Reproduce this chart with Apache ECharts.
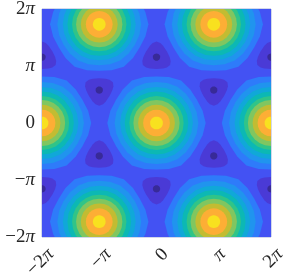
<!DOCTYPE html>
<html><head><meta charset="utf-8">
<style>html,body{margin:0;padding:0;background:#fff}#c{width:283px;height:278px;filter:blur(0.4px)}</style>
<script src="https://cdn.jsdelivr.net/npm/echarts@6/dist/echarts.min.js"></script>
</head><body><div id="c"></div>
<script>
var PI = Math.PI;
var tickUnits = [-2, -1, 0, 1, 2];
var tickNumbers = ['\u22122', '\u2212', '0', '', '2'];
var tickSymbols = ['\u03c0', '\u03c0', '', '\u03c0', '\u03c0'];
// radius of each contour around a maximum, outermost first, at 0, 15 and 30 degrees from the saddle direction
var peakRadii = [
  [2.70, 2.62, 2.56], [2.30, 2.28, 2.26], [2.00, 1.99, 1.985], [1.745, 1.745, 1.74], [1.49, 1.49, 1.49],
  [1.27, 1.27, 1.27], [1.01, 1.01, 1.01], [0.735, 0.735, 0.735], [0.35, 0.35, 0.35]
];
var peakX = [-6.283, 6.283, 0, -3.142, 3.142, -3.142, 3.142];
var peakY = [0, 0, 0, 5.44, 5.44, -5.44, -5.44];
// minima: position and direction the triangular band points to (+1 up, -1 down)
var troughX = [-6.283, 0, 6.283, -3.142, 3.142, -3.142, 3.142, -6.283, 0, 6.283];
var troughY = [3.628, 3.628, 3.628, 1.814, 1.814, -1.814, -1.814, -3.628, -3.628, -3.628];
var troughDir = [1, 1, 1, -1, -1, 1, 1, -1, -1, -1];
// radius at 0,15,30,45,60 degrees from the pointed corner
var troughRadii = [[0.865, 0.805, 0.723, 0.665, 0.652], [0.2, 0.2, 0.2, 0.2, 0.2]];
var baseColor = '#4352F3';
var peakColors = ['#2E7BFA', '#2094EE', '#10A8D8', '#0CB8B4', '#30C488', '#80C660', '#C2BC32', '#FDAE35', '#F8E11F'];
var troughColors = ['#4A3AD6', '#382A98'];

var rows = [];
rows.push(['base', 0, 0, 0, 0]);
peakRadii.forEach(function (r, l) {
  peakX.forEach(function (x, i) { rows.push(['peak', x, peakY[i], l, 0]); });
});
troughRadii.forEach(function (r, l) {
  troughX.forEach(function (x, i) { rows.push(['trough', x, troughY[i], l, troughDir[i]]); });
});
function ring(kind, l, dir) {
  var out = [], a, k, f, r;
  if (kind === 'peak') {
    for (a = 0; a < 24; a++) {
      k = a % 4; f = k > 2 ? 4 - k : k; r = peakRadii[l][f];
      out.push([r * Math.cos(a * PI / 12), r * Math.sin(a * PI / 12)]);
    }
  } else {
    for (a = 0; a < 24; a++) {
      k = a % 8; f = k > 4 ? 8 - k : k; r = troughRadii[l][f];
      var t = dir * PI / 2 + a * PI / 12;
      out.push([r * Math.cos(t), r * Math.sin(t)]);
    }
  }
  return out;
}
function renderItem(params, api) {
  var row = rows[params.dataIndex], pts, color;
  if (row[0] === 'base') {
    pts = [[-2 * PI, -2 * PI], [2 * PI, -2 * PI], [2 * PI, 2 * PI], [-2 * PI, 2 * PI]];
    color = baseColor;
  } else {
    pts = ring(row[0], row[3], row[4]).map(function (p) { return [row[1] + p[0], row[2] + p[1]]; });
    color = row[0] === 'peak' ? peakColors[row[3]] : troughColors[row[3]];
  }
  return { type: 'polygon', shape: { points: pts.map(function (p) { return api.coord(p); }) }, style: { fill: color } };
}
var font = '"Liberation Serif","DejaVu Serif",serif';
var chart = echarts.init(document.getElementById('c'), null, { renderer: 'canvas' });
function axis(extra) {
  return Object.assign({
    type: 'value', min: -2 * PI, max: 2 * PI, interval: PI,
    splitLine: { show: false }, axisLine: { show: false }, axisTick: { show: false }
  }, extra);
}
function parts(v) {
  var i = tickUnits.indexOf(Math.round(v / PI));
  return [tickNumbers[i], tickSymbols[i]];
}
function fmtY(v) {
  var p = parts(v);
  return (p[0] ? '{n|' + p[0] + '}' : '') + (p[1] ? '{p|' + p[1] + '}' : '');
}
function fmtX(v) {
  var p = parts(v);
  return (p[0] ? '{n|' + p[0] + '}' : '') + (p[1] ? '{p|' + p[1] + '}' : '') + '{s| }';
}
var color = '#262626';
chart.setOption({
  animation: false,
  grid: { show: true, left: 42, top: 9, width: 229, height: 228, outerBoundsMode: 'none', containLabel: false, borderColor: '#A8B0D8', borderWidth: 1, backgroundColor: 'transparent' },
  xAxis: axis({ axisLabel: { formatter: fmtX, rotate: 45, margin: 10, width: 54, align: 'center', verticalAlign: 'top', showMinLabel: true, showMaxLabel: true, hideOverlap: false,
    rich: {
      n: { fontSize: 19, color: color, fontFamily: font, align: 'right' },
      p: { fontSize: 19, color: color, fontFamily: font, fontStyle: 'italic', align: 'right' },
      s: { width: 24, fontSize: 19, align: 'right' }
    } } }),
  yAxis: axis({ axisLabel: { formatter: fmtY, margin: 7, showMinLabel: true, showMaxLabel: true, hideOverlap: false,
    rich: {
      n: { fontSize: 19, color: color, fontFamily: font },
      p: { fontSize: 19, color: color, fontFamily: font, fontStyle: 'italic' }
    } } }),
  series: [{ type: 'custom', coordinateSystem: 'cartesian2d', clip: true, silent: true, renderItem: renderItem, data: rows.map(function (r) { return [r[1], r[2]]; }) }]
});
</script></body></html>
